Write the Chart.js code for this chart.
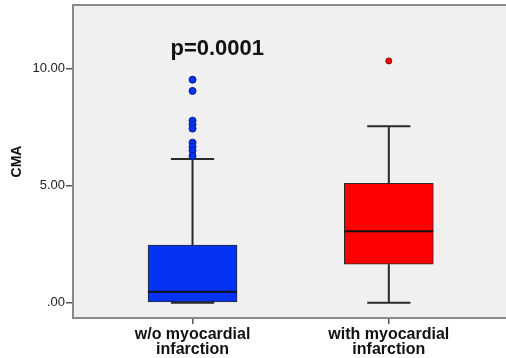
<!DOCTYPE html>
<html>
<head>
<meta charset="utf-8">
<script src="https://cdn.jsdelivr.net/npm/chart.js@4"></script>
<style>
  html, body { margin: 0; padding: 0; background: #fff; overflow: hidden; }
  canvas { display: block; }
</style>
</head>
<body>
<canvas id="cmaChart" width="506" height="358"></canvas>
<script>
// CMA by group: box-and-whisker summary
const groupLabels = [['w/o myocardial', 'infarction'], ['with myocardial', 'infarction']];
const groupPos = [1, 2];
const q1 = [0, 1.65];
const median = [0.47, 3.06];
const q3 = [2.47, 5.10];
const whiskerLow = [0, 0];
const whiskerHigh = [6.14, 7.54];
const outliersNoMI = [9.53, 9.05, 7.78, 7.62, 7.44, 6.84, 6.67, 6.50, 6.27];
const outliersMI = [10.33];
const yTicks = [0, 5, 10];
const pValueText = 'p=0.0001';

const boxColors = ['#0433f5', '#ff0000'];
const dotBorders = ['#0a1f8a', '#8a0000'];
const FONT = 'Arial, "Liberation Sans", sans-serif';

const boxPlotExtras = {
    id: 'boxPlotExtras',
    beforeDraw(chart) {
        const { ctx, chartArea: a } = chart;
        ctx.save();
        ctx.fillStyle = '#f0f0f0';
        ctx.fillRect(a.left, a.top, a.right - a.left, a.bottom - a.top);
        ctx.strokeStyle = '#8a8a8a';
        ctx.lineWidth = 2;
        ctx.beginPath();
        ctx.moveTo(a.left, a.top);
        ctx.lineTo(a.right, a.top);
        ctx.stroke();
        ctx.restore();
    },
    beforeDatasetsDraw(chart) {
        const { ctx, scales: { x, y } } = chart;
        ctx.save();
        ctx.strokeStyle = '#2a2a2a';
        ctx.lineWidth = 2;
        groupPos.forEach((p, i) => {
            const cx = x.getPixelForValue(p);
            const capL = x.getPixelForValue(p - 0.11);
            const capR = x.getPixelForValue(p + 0.11);
            ctx.beginPath();
            // upper whisker
            ctx.moveTo(cx, y.getPixelForValue(q3[i]));
            ctx.lineTo(cx, y.getPixelForValue(whiskerHigh[i]));
            ctx.moveTo(capL, y.getPixelForValue(whiskerHigh[i]));
            ctx.lineTo(capR, y.getPixelForValue(whiskerHigh[i]));
            // lower whisker
            ctx.moveTo(cx, y.getPixelForValue(q1[i]));
            ctx.lineTo(cx, y.getPixelForValue(whiskerLow[i]));
            ctx.moveTo(capL, y.getPixelForValue(whiskerLow[i]));
            ctx.lineTo(capR, y.getPixelForValue(whiskerLow[i]));
            ctx.stroke();
        });
        ctx.restore();
    },
    afterDatasetsDraw(chart) {
        const { ctx, scales: { x, y } } = chart;
        ctx.save();
        ctx.strokeStyle = '#111';
        ctx.lineWidth = 2;
        groupPos.forEach((p, i) => {
            const my = y.getPixelForValue(median[i]);
            ctx.beginPath();
            ctx.moveTo(x.getPixelForValue(p - 0.226), my);
            ctx.lineTo(x.getPixelForValue(p + 0.226), my);
            ctx.stroke();
        });
        ctx.fillStyle = '#111';
        ctx.font = 'bold 22px ' + FONT;
        ctx.textAlign = 'center';
        ctx.textBaseline = 'middle';
        ctx.fillText(pValueText, x.getPixelForValue(1.126), y.getPixelForValue(10.84));
        ctx.restore();
    }
};

new Chart(document.getElementById('cmaChart'), {
    type: 'bar',
    data: {
        datasets: [{
            type: 'scatter',
            data: outliersNoMI.map(v => ({ x: groupPos[0], y: v }))
                .concat(outliersMI.map(v => ({ x: groupPos[1], y: v }))),
            pointRadius: outliersNoMI.map(() => 3.5).concat(outliersMI.map(() => 3)),
            pointBackgroundColor: outliersNoMI.map(() => boxColors[0]).concat(outliersMI.map(() => boxColors[1])),
            pointBorderColor: outliersNoMI.map(() => dotBorders[0]).concat(outliersMI.map(() => dotBorders[1])),
            pointBorderWidth: 1,
            order: 0
        }, {
            type: 'bar',
            data: groupPos.map((p, i) => ({ x: p, y: [q1[i], q3[i]] })),
            backgroundColor: boxColors,
            borderColor: '#2a2a2a',
            borderWidth: 1,
            borderSkipped: false,
            barThickness: 89,
            order: 1
        }]
    },
    options: {
        responsive: false,
        animation: false,
        events: [],
        layout: { autoPadding: false, padding: { top: 5, right: 0, left: 0, bottom: 0 } },
        plugins: {
            legend: { display: false },
            tooltip: { enabled: false }
        },
        scales: {
            x: {
                type: 'linear',
                offset: false,
                min: 0.391,
                max: 2.597,
                afterBuildTicks: s => { s.ticks = groupPos.map(v => ({ value: v })); },
                afterFit: s => { s.height = 40; s.paddingLeft = 0; s.paddingRight = 0; },
                grid: { offset: false, drawOnChartArea: false, tickLength: 6, color: '#555', lineWidth: 1.5 },
                border: { display: true, color: '#8a8a8a', width: 2 },
                ticks: {
                    autoSkip: false,
                    maxRotation: 0,
                    padding: 3,
                    color: '#111',
                    font: { family: FONT, size: 16, weight: 'bold', lineHeight: 0.95 },
                    callback: v => groupLabels[groupPos.indexOf(v)] || ''
                }
            },
            y: {
                type: 'linear',
                min: -0.65,
                max: 12.72,
                afterBuildTicks: s => { s.ticks = yTicks.map(v => ({ value: v })); },
                afterFit: s => { s.width = 73; s.paddingTop = 0; s.paddingBottom = 0; },
                grid: { drawOnChartArea: false, tickLength: 7, color: '#555', lineWidth: 1.5 },
                border: { display: true, color: '#8a8a8a', width: 2 },
                ticks: {
                    padding: 1,
                    color: '#222',
                    font: { family: FONT, size: 13 },
                    callback: v => v === 0 ? '.00' : v.toFixed(2)
                },
                title: {
                    display: true,
                    text: 'CMA',
                    color: '#111',
                    padding: { top: 9, bottom: 0 },
                    font: { family: FONT, size: 14, weight: 'bold' }
                }
            }
        }
    },
    plugins: [boxPlotExtras]
});
</script>
</body>
</html>
